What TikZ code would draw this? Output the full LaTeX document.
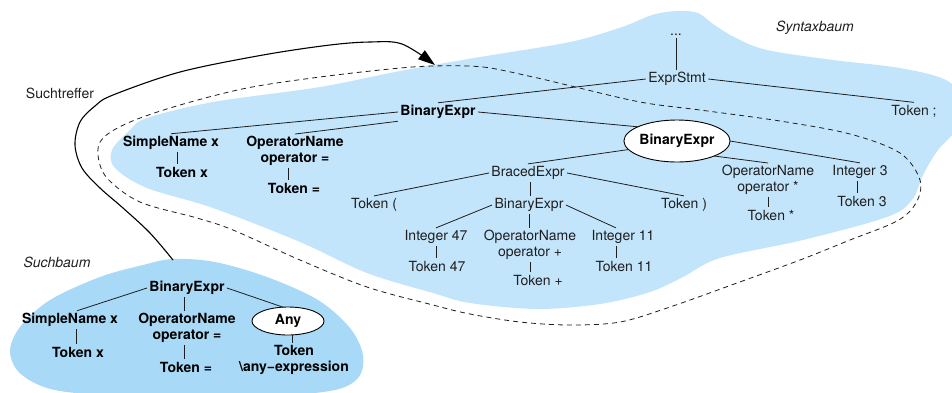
\documentclass[tikz,border=0pt]{standalone}
\usepackage{fontspec}
\setmainfont{TeX Gyre Heros}
\usetikzlibrary{shapes.geometric,arrows.meta}
\definecolor{syncol}{HTML}{C3E5FB}
\definecolor{searchcol}{HTML}{A8DAF8}
\definecolor{ink}{HTML}{1E1E1E}
\begin{document}
\begin{tikzpicture}[x=1pt,y=-1pt,
  every node/.style={font=\fontsize{14}{15.5}\selectfont, text=ink, inner sep=2.5pt, outer sep=0pt, align=center},
  bold/.style={font=\fontsize{14}{15.5}\selectfont\bfseries, text=black},
  caption/.style={font=\fontsize{14}{15.5}\selectfont\itshape, text=ink},
  edge/.style={line width=0.8pt, draw=ink},
  oval/.style={ellipse, draw=black, line width=0.9pt, fill=white, inner sep=0pt},
  hitline/.style={dash pattern=on 5pt off 4pt, line width=0.8pt, draw=ink},
  hitarrow/.style={line width=1.1pt, draw=black, -{Triangle[length=17pt,width=11pt]}}]
\useasboundingbox (0,0) rectangle (952,392);

% --- background regions ---
\fill[syncol] plot[smooth cycle, tension=0.55] coordinates {
  (480,57) (570,42) (622,27) (652,15) (677,11) (698,13) (713,24) (736,38)
  (767,50) (833,60) (900,68) (946,80) (962,100) (960,125) (938,150) (923,175)
  (912,200) (887,217) (803,240) (720,258) (683,277) (650,292) (600,304)
  (537,309) (470,303) (433,293) (367,273) (300,242) (213,208) (147,188)
  (115,168) (112,150) (130,130) (147,118) (213,102) (320,87) (400,71)};
\fill[searchcol] plot[smooth cycle, tension=0.55] coordinates {
  (173,259) (215,262) (267,277) (318,300) (350,328) (363,355) (358,378)
  (330,391) (250,397) (150,397) (60,391) (22,375) (10,352) (20,327)
  (50,300) (100,277) (143,265)};

% --- matched subtree outline ---
\draw[hitline] plot[smooth cycle, tension=0.55] coordinates {
  (433,66) (483,67) (533,77) (567,85) (640,102) (700,110) (780,121) (850,134)
  (900,153) (920,180) (916,203) (897,221) (850,240) (800,260) (737,283)
  (670,307) (620,322) (570,325) (520,322) (470,314) (433,305) (367,287)
  (300,260) (233,230) (197,218) (140,202) (107,178) (98,155) (103,138)
  (130,122) (180,105) (247,88) (320,77) (390,69)};

% --- captions ---
\node[caption] (capsyn) at (815,28) {Syntaxbaum};
\node[caption] (capsearch) at (57,262) {Suchbaum};
\node (caphit) at (60,93) {Suchtreffer};

% --- search hit arrow ---
\coordinate (hitstart) at (173,260);
\coordinate (hitend) at (435,65);
\draw[hitarrow] plot[smooth, tension=0.55] coordinates {
  (hitstart) (150,233) (123,208) (100,188) (82,168) (75,145) (80,122)
  (95,106) (113,95) (180,72) (263,55) (330,45) (370,42) (402,44) (hitend)};

% --- syntax tree ---
\node (dots)   at (676,35)  {...};
\node (es)     at (677,79)  {ExprStmt};
\node (tsemi)  at (914,111) {Token ;};
\node[bold] (be1) at (438,112) {BinaryExpr};
\node[bold] (sn)  at (171,143) {SimpleName x};
\node[bold] (opn) at (295,151) {OperatorName\\operator =};
\node[bold] (tx)  at (182,172) {Token x};
\node[bold] (teq) at (294,188) {Token =};
\node[oval, bold, minimum width=93pt, minimum height=42pt] (ell) at (677,141) {BinaryExpr};
\node (braced) at (528,173) {BracedExpr};
\node (opstar) at (768,180) {OperatorName\\operator *};
\node (int3)   at (860,172) {Integer 3};
\node (t3)     at (862,201) {Token 3};
\node (tstar)  at (771,215) {Token *};
\node (tlp)    at (374,205) {Token (};
\node (trp)    at (684,205) {Token )};
\node (be2)    at (529,205) {BinaryExpr};
\node (i47)    at (436,237) {Integer 47};
\node (t47)    at (437,266) {Token 47};
\node (opplus) at (530,245) {OperatorName\\operator +};
\node (tplus)  at (538,280) {Token +};
\node (i11)    at (623,237) {Integer 11};
\node (t11)    at (624,266) {Token 11};

\draw[edge] (dots.south) -- (dots.south |- es.north);
\draw[edge] (es.west) -- (be1.north);
\draw[edge] (es.east) -- (tsemi.north);
\draw[edge] (be1.west) -- (sn.north);
\draw[edge] (be1.south west) -- (opn.north);
\draw[edge] (be1.east) -- (ell.160);
\draw[edge] ([xshift=6pt]sn.south) -- ([xshift=6pt]sn.south |- tx.north);
\draw[edge] ([xshift=-7pt]opn.south) -- ([xshift=-7pt]opn.south |- teq.north);
\draw[edge] (ell.190) -- (braced.north);
\draw[edge] (ell.-22) -- (opstar.north);
\draw[edge] (ell.east) -- (int3.north);
\draw[edge] ([xshift=-3pt]int3.south) -- ([xshift=-3pt]int3.south |- t3.north);
\draw[edge] (opstar.south) -- (opstar.south |- tstar.north);
\draw[edge] (braced.west) -- (tlp.north);
\draw[edge] (braced.east) -- (trp.north);
\draw[edge] ([xshift=2pt]braced.south) -- ([xshift=2pt]braced.south |- be2.north);
\draw[edge] (be2.west) -- (i47.north);
\draw[edge] (be2.south) -- (be2.south |- opplus.north);
\draw[edge] (be2.east) -- ([xshift=-7pt]i11.north);
\draw[edge] (i47.south) -- (i47.south |- t47.north);
\draw[edge] (opplus.south) -- (opplus.south |- tplus.north);
\draw[edge] ([xshift=-7pt]i11.south) -- ([xshift=-7pt]i11.south |- t11.north);

% --- search tree ---
\node[bold] (sbe)  at (187,288) {BinaryExpr};
\node[bold] (ssn)  at (70,320)  {SimpleName x};
\node[bold] (stx)  at (78,352)  {Token x};
\node[bold] (sop)  at (187,328) {OperatorName\\operator =};
\node[bold] (steq) at (186,367) {Token =};
\node[oval, bold, minimum width=72pt, minimum height=28pt] (any) at (288,321) {Any};
\node[bold] (stok) at (294,360) {Token\\\textbackslash any−expression};

\draw[edge] (sbe.west) -- ([xshift=7pt]ssn.north);
\draw[edge] ([xshift=-3pt]sbe.south) -- ([xshift=-3pt]sbe.south |- sop.north);
\draw[edge] (sbe.east) -- (any.110);
\draw[edge] ([xshift=6pt]ssn.south) -- ([xshift=6pt]ssn.south |- stx.north);
\draw[edge] ([xshift=-3pt]sop.south) -- ([xshift=-3pt]sop.south |- steq.north);
\draw[edge] ([xshift=4pt]any.south) -- ([xshift=4pt]any.south |- stok.north);
\end{tikzpicture}
\end{document}
